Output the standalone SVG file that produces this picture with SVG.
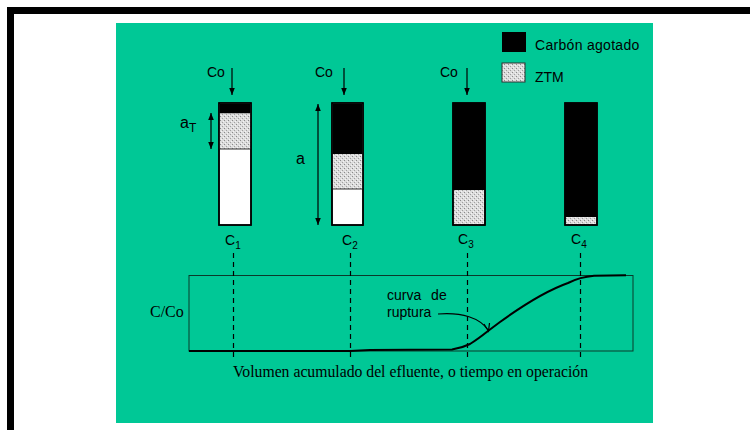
<svg xmlns="http://www.w3.org/2000/svg" width="750" height="430" viewBox="0 0 750 430">
<style>
.sans{font-family:"Liberation Sans",Arial,sans-serif;fill:#000}
.serif{font-family:"Liberation Serif","Times New Roman",serif;fill:#000}
.bar{stroke:#000;stroke-width:1.5}
.sep{stroke:#333;stroke-width:1}
.dash{stroke:#000;stroke-width:1.2;stroke-dasharray:5 4;fill:none}
.arr{stroke:#000;stroke-width:1.2;fill:none}
</style>
<defs>
<pattern id="ztm" width="4" height="4" patternUnits="userSpaceOnUse">
<rect width="4" height="4" fill="#dcdcdc"/>
<rect x="0" y="0" width="1" height="1" fill="#8a8a8a"/>
<rect x="2" y="2" width="1" height="1" fill="#a0a0a0"/>
<rect x="3" y="1" width="1" height="1" fill="#f4f4f4"/>
<rect x="1" y="3" width="1" height="1" fill="#f4f4f4"/>
</pattern>
<marker id="ah" viewBox="0 0 10 10" refX="10" refY="5" markerWidth="7" markerHeight="7" markerUnits="userSpaceOnUse" orient="auto-start-reverse">
<path d="M0,1 L10,5 L0,9 z" fill="#000"/>
</marker>
</defs>
<rect x="0" y="0" width="750" height="430" fill="#fff"/>
<rect x="10.5" y="10.5" width="760" height="440" fill="#fff" stroke="#000" stroke-width="7"/>
<rect x="116" y="23" width="537" height="400" fill="#00c896"/>

<g id="legend">
<rect x="502" y="32" width="24" height="20" fill="#000"/>
<text class="sans" x="535" y="50" font-size="14" letter-spacing="0.3">Carbón agotado</text>
<rect x="502" y="63" width="23" height="19" fill="url(#ztm)" stroke="#333" stroke-width="1"/>
<text class="sans" x="535" y="82" font-size="14">ZTM</text>
</g>

<g id="column1">
<text class="sans" x="207" y="77" font-size="14">Co</text>
<rect x="219" y="103" width="32" height="122" fill="#fff" class="bar"/>
<rect x="219.75" y="113" width="30.5" height="36" fill="url(#ztm)"/>
<rect x="219.75" y="103.75" width="30.5" height="9.5" fill="#000"/>
<line x1="219.75" y1="149" x2="250.25" y2="149" class="sep"/>
<rect x="219" y="103" width="32" height="122" fill="none" class="bar"/>
<text class="sans" x="180" y="128" font-size="16">a<tspan font-size="12" dy="4">T</tspan></text>
<text class="sans" x="225" y="245" font-size="14">C<tspan font-size="10" dy="4">1</tspan></text>
</g>

<g id="column2">
<text class="sans" x="315" y="77" font-size="14">Co</text>
<rect x="332" y="103" width="31" height="122" fill="#fff" class="bar"/>
<rect x="332.75" y="154" width="29.5" height="35" fill="url(#ztm)"/>
<rect x="332.75" y="103.75" width="29.5" height="50.25" fill="#000"/>
<line x1="332.75" y1="189" x2="362.25" y2="189" class="sep"/>
<rect x="332" y="103" width="31" height="122" fill="none" class="bar"/>
<text class="sans" x="296" y="164" font-size="16">a</text>
<text class="sans" x="342" y="245" font-size="14">C<tspan font-size="10" dy="4">2</tspan></text>
</g>

<g id="column3">
<text class="sans" x="440" y="77" font-size="14">Co</text>
<rect x="453" y="103" width="32" height="122" fill="#000" class="bar"/>
<rect x="453.75" y="190" width="30.5" height="34.25" fill="url(#ztm)"/>
<rect x="453" y="103" width="32" height="122" fill="none" class="bar"/>
<text class="sans" x="458" y="244" font-size="14">C<tspan font-size="10" dy="4">3</tspan></text>
</g>

<g id="column4">
<rect x="565" y="103" width="32" height="122" fill="#000" class="bar"/>
<rect x="565.75" y="217" width="30.5" height="7.25" fill="url(#ztm)"/>
<rect x="565" y="103" width="32" height="122" fill="none" class="bar"/>
<text class="sans" x="571" y="244" font-size="14">C<tspan font-size="10" dy="4">4</tspan></text>
</g>

<g id="graph">
<rect x="189" y="275.5" width="444" height="75.5" fill="none" stroke="#0a3a2a" stroke-width="1"/>
<text class="serif" x="150" y="317" font-size="16">C/Co</text>
<text class="serif" x="233" y="377" font-size="16" textLength="355" lengthAdjust="spacingAndGlyphs">Volumen acumulado del efluente, o tiempo en operación</text>
<text class="sans" x="387" y="300" font-size="14" word-spacing="6">curva de</text>
<text class="sans" x="387" y="317" font-size="14">ruptura</text>
</g>

<g id="connectors">
<line x1="232" y1="68" x2="232" y2="95" class="arr" marker-end="url(#ah)"/>
<line x1="344" y1="68" x2="344" y2="95" class="arr" marker-end="url(#ah)"/>
<line x1="467" y1="68" x2="467" y2="95" class="arr" marker-end="url(#ah)"/>
<line x1="211" y1="113" x2="211" y2="149" class="arr" marker-start="url(#ah)" marker-end="url(#ah)"/>
<line x1="318" y1="104" x2="318" y2="225" class="arr" marker-start="url(#ah)" marker-end="url(#ah)"/>
<line x1="233.5" y1="253" x2="233.5" y2="361" class="dash"/>
<line x1="350.5" y1="253" x2="350.5" y2="361" class="dash"/>
<line x1="467.5" y1="253" x2="467.5" y2="361" class="dash"/>
<line x1="580.5" y1="253" x2="580.5" y2="361" class="dash"/>
<path d="M189,351 L350,351 L370,350 L452,349.5 Q462,348 470,344 Q478,339 488,331 L500,322 Q540,293 568,283 Q580,277 594,275.8 L626,275.3" fill="none" stroke="#000" stroke-width="2"/>
<path d="M438,314 C462,312 480,318 488,330" fill="none" stroke="#000" stroke-width="1.2"/>
<path d="M484,324 L488.5,331 L489.5,323" fill="none" stroke="#000" stroke-width="1.2"/>
</g>
</svg>
